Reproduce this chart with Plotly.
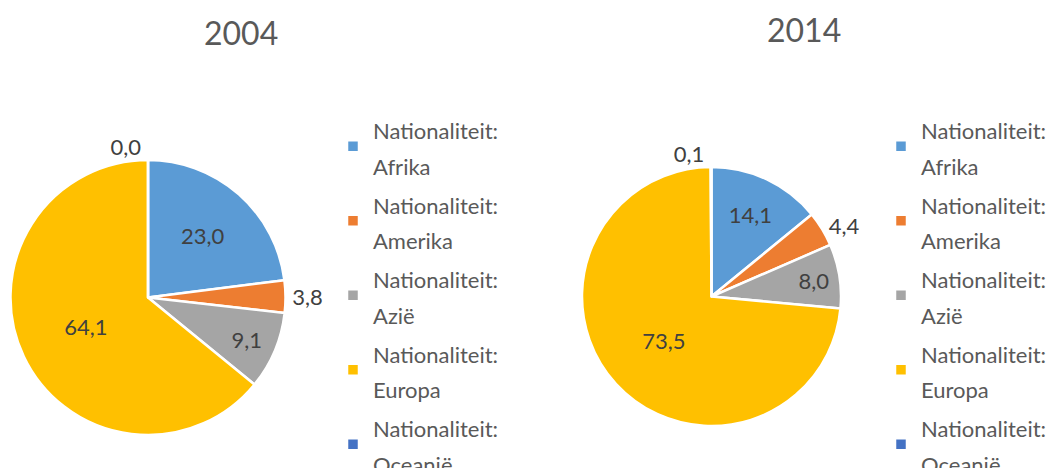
import plotly.graph_objects as go

categories = ["Afrika", "Amerika", "Azië", "Europa", "Oceanië"]
legend_labels = ["Nationaliteit:<br>" + c for c in categories]
values_2004 = [23.0, 3.8, 9.1, 64.1, 0.0]
values_2014 = [14.1, 4.4, 8.0, 73.5, 0.1]
titles = ["2004", "2014"]
colors = ["#5B9BD5", "#ED7D31", "#A5A5A5", "#FFC000", "#4472C4"]
textpos_2004 = ["inside", "outside", "inside", "inside", "outside"]
textpos_2014 = ["inside", "outside", "inside", "inside", "outside"]

# page body has an 8px margin; figure is sized to fit the 1057x468 window
OFF = 8
W, H = 1057 - OFF, 468 - OFF
FONT = "Lato, Open Sans, sans-serif"
TXT = "#404040"
LEG = "#595959"


def px(X):
    return (X - OFF) / W


def py(Y):
    return 1 - (Y - OFF) / H


def span(s, style):
    o = "<span style='" + style + "'>"
    return o + s.replace("<br>", "</span><br>" + o) + "</span>"


# two slightly different (visually identical) style strings so each pie keeps its own legend entries
labels_2004 = [span(l, "font-size:22px") for l in legend_labels]
labels_2014 = [span(l, "font-size:22px;") for l in legend_labels]

fig = go.Figure()
fig.add_trace(go.Pie(
    labels=labels_2004, values=values_2004, sort=False, direction="clockwise", rotation=0,
    marker=dict(colors=colors, line=dict(color="white", width=2.5)),
    texttemplate="%{value:.1f}", textposition=textpos_2004,
    insidetextorientation="horizontal",
    insidetextfont=dict(family=FONT, size=22, color=TXT),
    outsidetextfont=dict(family=FONT, size=22, color=TXT),
    domain=dict(x=[px(10.5), px(285.5)], y=[py(435), py(160)]),
    legend="legend", hoverinfo="value",
))
fig.add_trace(go.Pie(
    labels=labels_2014, values=values_2014, sort=False, direction="clockwise", rotation=0,
    marker=dict(colors=colors, line=dict(color="white", width=2.5)),
    texttemplate="%{value:.1f}", textposition=textpos_2014,
    insidetextorientation="horizontal",
    insidetextfont=dict(family=FONT, size=22, color=TXT),
    outsidetextfont=dict(family=FONT, size=22, color=TXT),
    domain=dict(x=[px(582), px(841)], y=[py(426), py(167)]),
    legend="legend2", hoverinfo="value",
))

legend_common = dict(font=dict(family=FONT, size=27.5, color=LEG), yanchor="top", xanchor="left",
                     bgcolor="rgba(0,0,0,0)", orientation="v")
fig.update_layout(
    width=W, height=H, margin=dict(l=0, r=0, t=0, b=0, autoexpand=False),
    paper_bgcolor="white", plot_bgcolor="white",
    separators=", ",
    font=dict(family=FONT, color=TXT),
    legend=dict(x=px(333), y=py(104), **legend_common),
    legend2=dict(x=px(881), y=py(104), **legend_common),
    annotations=[
        dict(text=titles[0], x=px(241), y=py(32), xref="paper", yref="paper", showarrow=False,
             font=dict(family=FONT, size=32, color=LEG), xanchor="center", yanchor="middle"),
        dict(text=titles[1], x=px(803.5), y=py(30), xref="paper", yref="paper", showarrow=False,
             font=dict(family=FONT, size=32, color=LEG), xanchor="center", yanchor="middle"),
    ],
)
fig.write_html("out.html")
